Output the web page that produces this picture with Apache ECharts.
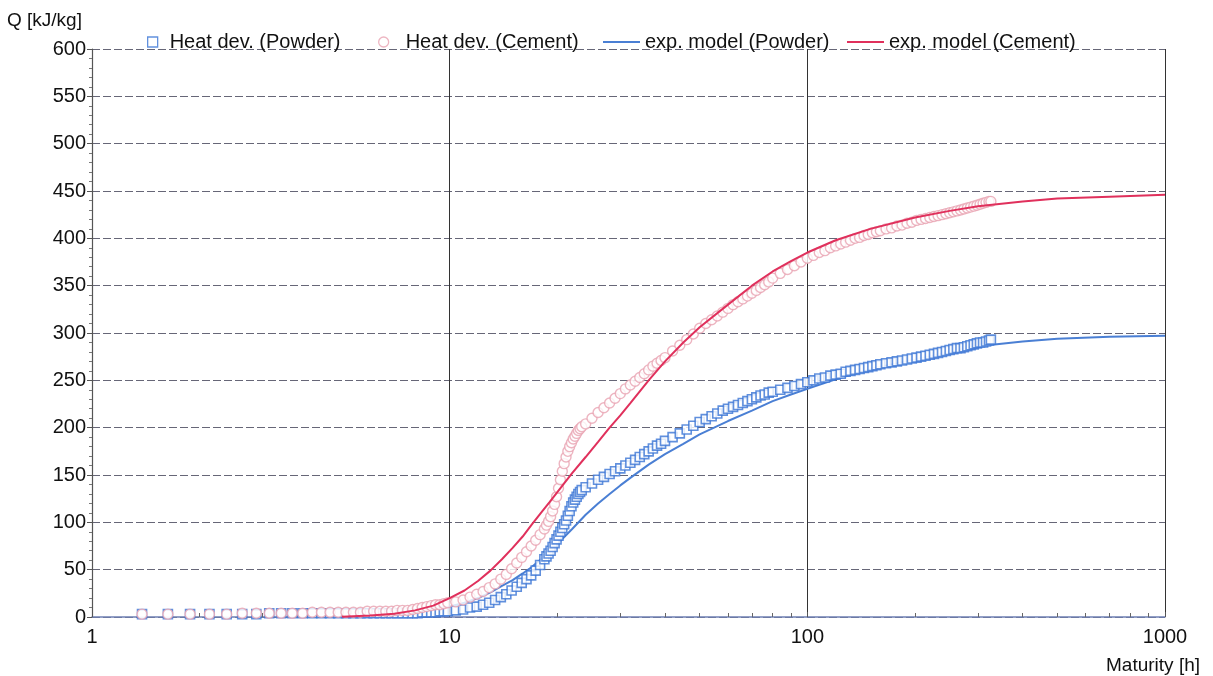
<!DOCTYPE html>
<html>
<head>
<meta charset="utf-8">
<title>Heat development</title>
<script src="https://cdn.jsdelivr.net/npm/echarts@6.0.0/dist/echarts.min.js"></script>
<style>
  html, body { margin: 0; padding: 0; background: #fff; }
  #chart { width: 1213px; height: 676px; }
</style>
</head>
<body>
<div id="chart"></div>
<script>
// measured points, maturity [h] (shared by both samples)
var maturity = [
  1.38, 1.63, 1.88, 2.13, 2.38, 2.63, 2.88, 3.13, 3.38, 3.63, 3.88,
  4.13, 4.38, 4.63, 4.88, 5.13, 5.38, 5.63, 5.88, 6.13, 6.38, 6.63, 6.88, 7.13, 7.38, 7.63, 7.88,
  8.13, 8.38, 8.63, 8.88, 9.13, 9.38, 9.63, 9.88,
  10.4, 10.9, 11.4, 11.9, 12.4, 12.9, 13.4, 13.9, 14.4, 14.9, 15.4, 15.9, 16.4, 16.9, 17.4, 17.9, 18.4,
  18.65, 18.9, 19.15, 19.4, 19.65, 19.9, 20.15, 20.4, 20.65, 20.9, 21.15, 21.4, 21.65, 21.9, 22.15, 22.4, 22.65, 22.9, 23.15, 23.4,
  24, 25, 26, 27, 28, 29, 30, 31, 32, 33, 34, 35, 36, 37, 38, 39, 40,
  42, 44, 46, 48, 50, 52, 54, 56, 58, 60, 62, 64, 66, 68, 70, 72, 74, 76, 78, 80,
  84, 88, 92, 96, 100, 104, 108, 112, 116, 120, 124, 128, 132, 136, 140, 144, 148, 152, 156, 160,
  166, 172, 178, 184, 190, 196, 202, 208, 214, 220, 226, 232, 238, 244, 250, 256, 262, 268, 274, 280, 286, 292, 298, 304, 310, 316, 322, 326
]

// heat development Q [kJ/kg] - powder (squares)
var powderQ = [
  3, 3, 3, 3, 3, 3, 3, 4, 4, 4, 4,
  4, 4, 4, 4, 4, 4, 4, 4, 4, 4, 4, 4, 4, 4, 4, 4,
  4, 5, 5, 5, 5, 6, 6, 6,
  7, 8, 10, 11, 13, 15, 18, 21, 24, 28, 32, 36, 40, 44, 49, 55, 61,
  64, 67, 70, 74, 78, 82, 86, 90, 94, 98, 102, 107, 112, 117, 121, 124, 127, 130, 132, 134,
  137, 141, 145, 148, 151, 154, 157, 160, 163, 166, 169, 172, 175, 178, 181, 183, 186,
  190, 194, 198, 202, 206, 209, 212, 215, 218, 220, 222, 224, 226, 228, 230, 232, 234, 235, 237, 238,
  240, 242, 244, 246, 248, 250, 252, 253, 255, 256, 257, 259, 260, 261, 262, 263, 264, 265, 266, 267,
  268, 269, 270, 271, 272, 273, 274, 275, 276, 277, 278, 279, 280, 281, 282, 283, 284, 284, 285, 286, 287, 288, 289, 290, 290, 291, 292, 293
]

// heat development Q [kJ/kg] - cement (circles)
var cementQ = [
  3, 3, 3, 3, 3, 4, 4, 4, 4, 4, 4,
  5, 5, 5, 5, 5, 5, 5, 6, 6, 6, 6, 6, 7, 7, 7, 8,
  9, 10, 11, 12, 13, 13, 14, 15,
  16, 18, 21, 24, 27, 31, 35, 40, 45, 51, 57, 63, 69, 75, 81, 87, 93,
  97, 101, 106, 112, 119, 127, 136, 145, 154, 162, 169, 175, 180, 184, 188, 191, 194, 197, 199, 201,
  204, 210, 216, 221, 226, 231, 236, 241, 245, 249, 253, 257, 261, 265, 268, 271, 274,
  281, 287, 293, 299, 305, 310, 314, 318, 322, 326, 330, 333, 336, 339, 342, 345, 348, 351, 354, 358,
  363, 367, 371, 375, 379, 382, 385, 387, 390, 392, 394, 396, 398, 400, 401, 403, 404, 406, 407, 408,
  410, 411, 413, 414, 416, 417, 419, 420, 421, 422, 423, 424, 425, 426, 427, 428, 429, 430, 431, 432, 433, 434, 435, 436, 437, 438, 439, 439
]

// exponential model curves
var modelT = [5, 6, 7, 8, 9, 10, 11, 12, 13, 14, 15, 16, 17, 18, 19, 20, 22, 24, 26, 28, 30, 32, 36, 40, 45, 50, 60, 70, 80, 90, 100, 120, 150, 200, 250, 300, 400, 500, 700, 1000]
var modelPowder = [0, 0.5, 2, 4, 7, 11, 15, 20, 26, 33, 39, 46, 53, 61, 69, 77, 93, 108, 120, 130, 139, 147, 161, 172, 183, 193, 207, 218, 228, 235, 241, 251, 262, 272, 280, 286, 291, 294, 296, 297]
var modelCement = [0.3, 1.5, 3.5, 7, 12, 20, 28, 38, 49, 61, 73, 85, 98, 110, 121, 132, 152, 169, 185, 200, 213, 226, 250, 270, 290, 306, 330, 350, 365, 376, 385, 398, 410, 422, 429, 434, 439, 442, 444, 446]

var seriesNames = ['Heat dev. (Powder)', 'Heat dev. (Cement)', 'exp. model (Powder)', 'exp. model (Cement)']

function pairs(xs, ys) {
  return xs.map(function(x, i) { return [x, ys[i]] })
}

var blue = '#3a74d4'
var blueLine = '#4a7fd4'
var pink = '#e9a3b2'
var red = '#e0305c'
var font = 'Liberation Sans, Arial, sans-serif'
var legendText = { fontFamily: font, fontSize: 20, color: '#111' }
var linePath = 'path://M0,0L36,0L36,2L0,2Z'

// one legend per entry so each sits where it does in the original
function legendAt(left, width, item) {
  return { data: [item], left: left, top: 27, itemWidth: width, itemHeight: 10, textStyle: legendText }
}

var option = {
  animation: false,
  backgroundColor: '#fff',
  title: [
    { text: 'Q [kJ/kg]', left: 2, top: 6, textStyle: { fontFamily: font, fontSize: 19, fontWeight: 'normal', color: '#111' } },
    { text: 'Maturity [h]', right: 8, top: 651, textStyle: { fontFamily: font, fontSize: 19, fontWeight: 'normal', color: '#111' } }
  ],
  legend: [
    legendAt(142, 24, { name: seriesNames[0], icon: 'path://M0,0L10,0L10,10L0,10Z', itemStyle: { color: '#fff', borderColor: blue, borderWidth: 1.3 } }),
    legendAt(373, 34, { name: seriesNames[1], icon: 'circle', itemStyle: { color: '#fff', borderColor: pink, borderWidth: 1.3 } }),
    legendAt(598, 37, { name: seriesNames[2], icon: linePath, itemStyle: { color: blueLine, borderWidth: 0 } }),
    legendAt(842, 37, { name: seriesNames[3], icon: linePath, itemStyle: { color: red, borderWidth: 0 } })
  ],
  grid: { left: 92, right: 48, top: 49, bottom: 59, containLabel: false },
  xAxis: {
    type: 'log',
    logBase: 10,
    min: 1,
    max: 1000,
    axisLine: { lineStyle: { color: '#6f80b4', width: 1.5 } },
    axisTick: { show: true, inside: true, length: 5, lineStyle: { color: '#555' } },
    minorTick: { show: true, splitNumber: 9, length: 4, lineStyle: { color: '#666' } },
    axisLabel: {
      fontFamily: font, fontSize: 20, color: '#111', margin: 10,
      formatter: function(v) { return String(v) }
    },
    splitLine: { show: true, lineStyle: { color: '#333', width: 1 } }
  },
  yAxis: {
    type: 'value',
    min: 0,
    max: 600,
    interval: 50,
    axisLine: { show: true, lineStyle: { color: '#555', width: 1.2 } },
    axisTick: { show: true, length: 5, lineStyle: { color: '#555' } },
    minorTick: { show: true, splitNumber: 5, length: 3, lineStyle: { color: '#777' } },
    axisLabel: { fontFamily: font, fontSize: 20, color: '#111', margin: 6 },
    splitLine: { show: true, lineStyle: { color: '#666677', width: 1, type: [8, 3] } }
  },
  series: [
    {
      name: seriesNames[0],
      type: 'scatter',
      symbol: 'rect',
      symbolSize: 9,
      data: pairs(maturity, powderQ),
      itemStyle: { color: '#fff', borderColor: blue, borderWidth: 1.6 },
      z: 3
    },
    {
      name: seriesNames[1],
      type: 'scatter',
      symbol: 'circle',
      symbolSize: 10,
      data: pairs(maturity, cementQ),
      itemStyle: { color: '#fff', borderColor: pink, borderWidth: 1.4 },
      z: 4
    },
    {
      name: seriesNames[2],
      type: 'line',
      symbol: 'none',
      data: pairs(modelT, modelPowder),
      itemStyle: { color: blueLine },
      lineStyle: { color: blueLine, width: 2 },
      z: 2
    },
    {
      name: seriesNames[3],
      type: 'line',
      symbol: 'none',
      data: pairs(modelT, modelCement),
      itemStyle: { color: red },
      lineStyle: { color: red, width: 2 },
      z: 5
    }
  ]
}

var myChart = echarts.init(document.getElementById('chart'))
myChart.setOption(option)
window.onresize = function() {
  myChart.resize()
}
</script>
</body>
</html>
